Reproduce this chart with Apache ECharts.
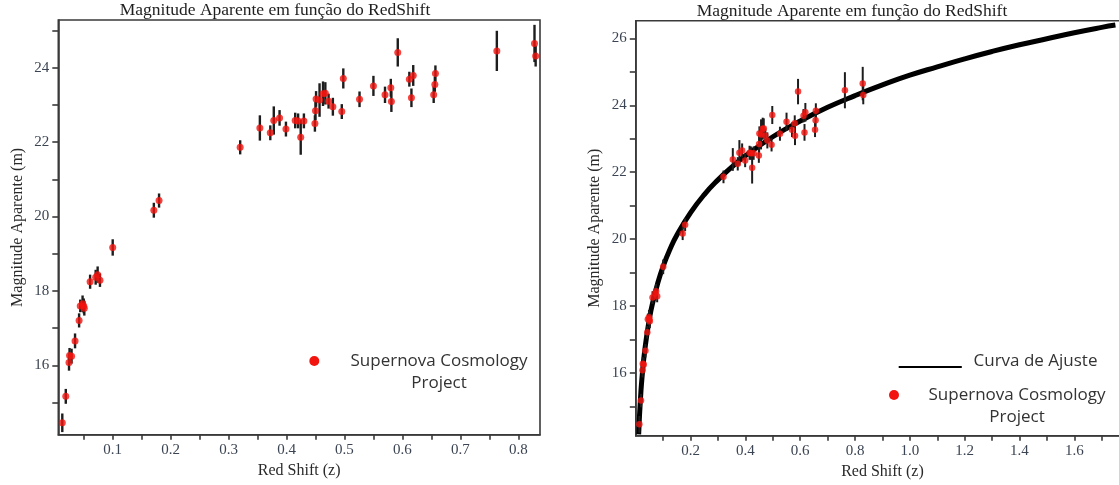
<!DOCTYPE html>
<html><head><meta charset="utf-8">
<script src="https://cdn.jsdelivr.net/npm/echarts@6/dist/echarts.min.js"></script>
<style>html,body{margin:0;padding:0;background:#fff;overflow:hidden}#c{width:1119px;height:485px}</style>
</head><body><div id="c"></div>
<script>
// ---- data ----
const redshift = [0.013,0.019,0.0246,0.0255,0.029,0.035,0.042,0.044,0.048,0.050,0.051,0.061,0.0706,0.074,0.078,0.100,0.171,0.180,
  0.320,0.354,0.372,0.378,0.388,0.399,0.415,0.420,0.4245,0.430,0.449,0.450,0.451,0.457,0.463,0.467,0.4726,0.480,0.4954,0.498,
  0.526,0.550,0.570,0.580,0.581,0.592,0.612,0.6156,0.6187,0.654,0.656,0.657,0.763,0.828,0.830];
const magnitude = [14.46,15.17,16.08,16.27,16.25,16.66,17.21,17.60,17.66,17.60,17.54,18.25,18.37,18.44,18.29,19.17,20.17,20.43,
  21.86,22.38,22.25,22.58,22.65,22.35,22.58,22.57,22.13,22.57,22.50,22.84,23.16,23.13,23.30,23.31,23.10,22.95,22.82,23.71,
  23.15,23.51,23.27,23.46,23.09,24.41,23.69,23.19,23.79,23.27,23.55,23.84,24.45,24.65,24.31];
const magError = [0.25,0.20,0.22,0.20,0.20,0.20,0.19,0.17,0.22,0.20,0.20,0.19,0.20,0.22,0.18,0.22,0.20,0.19,
  0.19,0.34,0.20,0.38,0.21,0.20,0.21,0.20,0.47,0.20,0.22,0.25,0.21,0.45,0.33,0.30,0.20,0.24,0.20,0.27,
  0.21,0.27,0.22,0.24,0.28,0.38,0.20,0.25,0.28,0.22,0.20,0.22,0.54,0.50,0.28];
const fitRedshift = [0.0105,0.0125,0.015,0.0175,0.02,0.025,0.03,0.04,0.05,0.06,0.08,0.1,0.125,0.15,0.2,0.25,0.3,0.35,0.4,0.5,
  0.6,0.7,0.8,0.9,1.0,1.1,1.2,1.3,1.4,1.5,1.6,1.7,1.75];
const fitMagnitude = [14.16,14.54,14.94,15.28,15.59,16.08,16.49,17.12,17.63,18.04,18.68,19.19,19.70,20.12,20.79,21.33,21.77,22.15,22.49,23.06,
  23.53,23.94,24.29,24.61,24.90,25.15,25.39,25.61,25.81,25.99,26.17,26.33,26.40];

const titleText = 'Magnitude Aparente em função do RedShift';
const xName = 'Red Shift (z)';
const yName = 'Magnitude Aparente (m)';
const legendFit = 'Curva de Ajuste';
const legendData = 'Supernova Cosmology\nProject';

const leftXTicks = [0.05,0.1,0.15,0.2,0.25,0.3,0.35,0.4,0.45,0.5,0.55,0.6,0.65,0.7,0.75,0.8];
const leftXLabels = [0.1,0.2,0.3,0.4,0.5,0.6,0.7,0.8];
const leftYTicks = [15,16,17,18,19,20,21,22,23,24,25];
const leftYLabels = [16,18,20,22,24];
const rightXTicks = [0.1,0.2,0.3,0.4,0.5,0.6,0.7,0.8,0.9,1.0,1.1,1.2,1.3,1.4,1.5,1.6,1.7,1.8];
const rightXLabels = [0.2,0.4,0.6,0.8,1.0,1.2,1.4,1.6,1.8];
const rightYTicks = [15,16,17,18,19,20,21,22,23,24,25,26];
const rightYLabels = [16,18,20,22,24,26];

// ---- chart ----
const chart = echarts.init(document.getElementById('c'), null, {renderer: 'canvas'});
const points = redshift.map((z, i) => [z, magnitude[i]]);
const bars = redshift.map((z, i) => [z, magnitude[i], magError[i]]);
const fitLine = fitRedshift.map((z, i) => [z, fitMagnitude[i]]);

const RED = '#f2140f';
const AXIS = '#3a3a3a';
const LABEL = '#3b4452';
const SERIF = '"Liberation Serif", "DejaVu Serif", serif';
const SANS = '"Open Sans", "Liberation Sans", sans-serif';

function errorBar(width) {
  return function (params, api) {
    const x = api.value(0), y = api.value(1), e = api.value(2);
    const p1 = api.coord([x, y - e]);
    const p2 = api.coord([x, y + e]);
    return {type: 'line', shape: {x1: p1[0], y1: p1[1], x2: p2[0], y2: p2[1]},
      style: {stroke: '#1d1d1d', lineWidth: width}};
  };
}

function xAxisDef(gi, min, max, ticks, labels) {
  return {
    type: 'value', gridIndex: gi, min: min, max: max,
    name: xName, nameLocation: 'middle', nameGap: 28,
    nameTextStyle: {fontFamily: SERIF, fontSize: 16, color: '#2a2a2a'},
    axisLine: {show: true, lineStyle: {color: AXIS, width: 1.6}},
    axisTick: {show: true, inside: false, length: 5, customValues: ticks, lineStyle: {color: AXIS, width: 1.6}},
    axisLabel: {customValues: labels, margin: 8, fontFamily: SERIF, fontSize: 15, color: LABEL,
      formatter: v => Number(v).toFixed(1)},
    splitLine: {show: false}
  };
}
function yAxisDef(gi, min, max, ticks, labels) {
  return {
    type: 'value', gridIndex: gi, min: min, max: max,
    name: yName, nameLocation: 'middle', nameGap: 33,
    nameTextStyle: {fontFamily: SERIF, fontSize: 16, color: '#2a2a2a'},
    axisLine: {show: true, lineStyle: {color: AXIS, width: 1.6}},
    axisTick: {show: true, inside: false, length: 6, customValues: ticks, lineStyle: {color: AXIS, width: 1.6}},
    axisLabel: {customValues: labels, margin: 9, fontFamily: SERIF, fontSize: 15, color: LABEL},
    splitLine: {show: false}
  };
}

const option = {
  backgroundColor: '#ffffff',
  animation: false,
  title: [
    {text: titleText, left: 275, top: 1, padding: 0, textAlign: 'center',
      textStyle: {fontFamily: SERIF, fontSize: 17.5, fontWeight: 'normal', color: '#1e1e1e'}},
    {text: titleText, left: 852, top: 2, padding: 0, textAlign: 'center',
      textStyle: {fontFamily: SERIF, fontSize: 17.5, fontWeight: 'normal', color: '#1e1e1e'}}
  ],
  grid: [
    {left: 58.3, top: 20, width: 481.7, height: 414.7, outerBoundsMode: 'none', containLabel: false,
      show: true, borderColor: AXIS, borderWidth: 1.6, backgroundColor: 'transparent'},
    {left: 635.8, top: 20.7, width: 493.3, height: 415, outerBoundsMode: 'none', containLabel: false,
      show: true, borderColor: AXIS, borderWidth: 1.6, backgroundColor: 'transparent'}
  ],
  xAxis: [
    xAxisDef(0, 0.0061, 0.8375, leftXTicks, leftXLabels),
    xAxisDef(1, 0, 1.8, rightXTicks, rightXLabels)
  ],
  yAxis: [
    yAxisDef(0, 14.14, 25.28, leftYTicks, leftYLabels),
    yAxisDef(1, 14.12, 26.53, rightYTicks, rightYLabels)
  ],
  series: [
    {type: 'custom', name: 'errL', xAxisIndex: 0, yAxisIndex: 0, data: bars, renderItem: errorBar(2.4),
      encode: {x: 0, y: 1}, z: 2, silent: true},
    {type: 'scatter', name: 'Supernova Cosmology Project', xAxisIndex: 0, yAxisIndex: 0, data: points,
      symbol: 'circle', symbolSize: 7, itemStyle: {color: RED}, z: 3},
    {type: 'line', name: legendFit, xAxisIndex: 1, yAxisIndex: 1, data: fitLine, smooth: true,
      showSymbol: false, lineStyle: {color: '#000', width: 5}, z: 1, silent: true},
    {type: 'custom', name: 'errR', xAxisIndex: 1, yAxisIndex: 1, data: bars, renderItem: errorBar(2),
      encode: {x: 0, y: 1}, z: 2, silent: true},
    {type: 'scatter', name: 'Supernova Cosmology Project ', xAxisIndex: 1, yAxisIndex: 1, data: points,
      symbol: 'circle', symbolSize: 6.5, itemStyle: {color: RED}, z: 3}
  ],
  graphic: [
    {type: 'circle', shape: {cx: 314.3, cy: 361, r: 5}, style: {fill: RED}},
    {type: 'text', x: 439, y: 350, style: {text: legendData, font: '17px ' + SANS, align: 'center',
      verticalAlign: 'top', lineHeight: 22, fill: '#333'}},
    {type: 'line', shape: {x1: 898.7, y1: 367, x2: 961.8, y2: 367}, style: {stroke: '#000', lineWidth: 2}},
    {type: 'text', x: 973.5, y: 350, style: {text: legendFit, font: '17px ' + SANS, align: 'left',
      verticalAlign: 'top', lineHeight: 22, fill: '#333'}},
    {type: 'circle', shape: {cx: 894, cy: 395, r: 5}, style: {fill: RED}},
    {type: 'text', x: 1017, y: 384, style: {text: legendData, font: '17px ' + SANS, align: 'center',
      verticalAlign: 'top', lineHeight: 22, fill: '#333'}}
  ]
};
chart.setOption(option);
</script>
</body></html>
